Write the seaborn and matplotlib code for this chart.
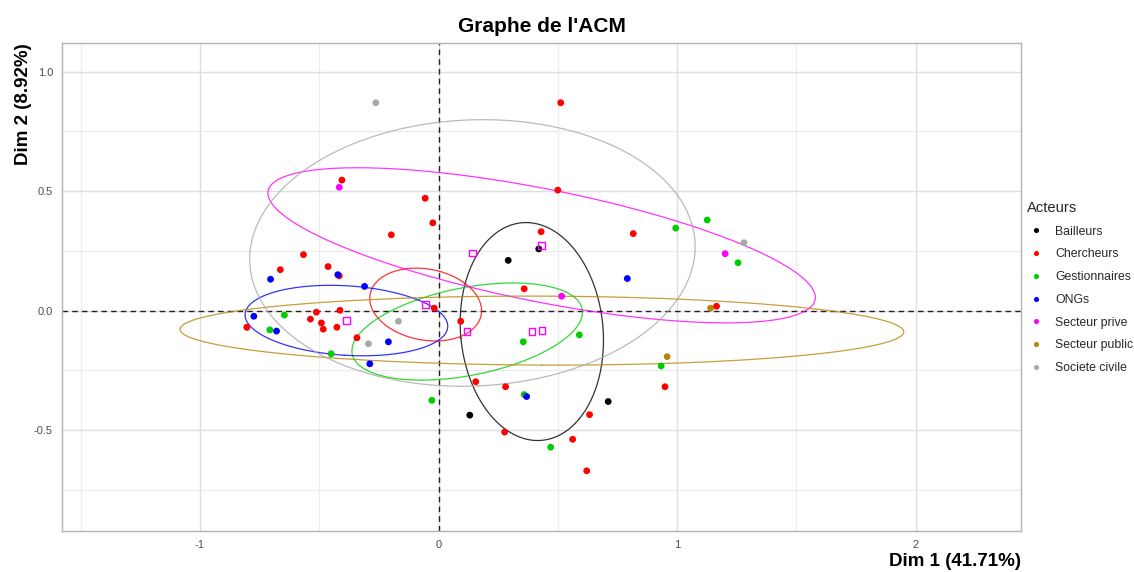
import numpy as np
import pandas as pd
import matplotlib
matplotlib.use("Agg")
import matplotlib.pyplot as plt
import seaborn as sns

# ---------------- data ----------------
groups = ["Bailleurs", "Chercheurs", "Gestionnaires", "ONGs",
          "Secteur prive", "Secteur public", "Societe civile"]
group_colors = ["#000000", "#FF0000", "#00CD00", "#0000FF",
                "#FF00FF", "#B8860B", "#A9A9A9"]

bailleurs_x = [0.292, 0.420, 0.711, 0.131]
bailleurs_y = [0.210, 0.258, -0.381, -0.438]

chercheurs_x = [-0.405, -0.056, -0.024, -0.198, -0.566, -0.663, -0.463, -0.416,
                0.512, 0.500, 0.816, 0.430, 0.359,
                -0.512, -0.413, -0.537, -0.491, -0.483, -0.426, -0.803,
                -0.018, -0.342, 0.093,
                1.165, 0.949, 0.156, 0.281, 0.633, 0.277, 0.562, 0.621]
chercheurs_y = [0.546, 0.470, 0.367, 0.317, 0.234, 0.171, 0.184, 0.145,
                0.870, 0.504, 0.322, 0.330, 0.091,
                -0.007, 0.001, -0.036, -0.052, -0.078, -0.070, -0.070,
                0.010, -0.114, -0.045,
                0.018, -0.319, -0.298, -0.319, -0.436, -0.509, -0.539, -0.671]

gestionnaires_x = [1.126, 0.994, 1.255, -0.646, -0.707, -0.450, -0.028,
                   0.355, 0.590, 0.933, 0.359, 0.470]
gestionnaires_y = [0.379, 0.345, 0.200, -0.019, -0.081, -0.181, -0.376,
                   -0.131, -0.102, -0.232, -0.352, -0.572]

ongs_x = [-0.704, -0.422, -0.310, 0.791, -0.774, -0.679, -0.210, -0.288, 0.369]
ongs_y = [0.131, 0.150, 0.101, 0.134, -0.024, -0.086, -0.131, -0.223, -0.360]

prive_x = [-0.416, 1.201, 0.516]
prive_y = [0.516, 0.238, 0.060]

public_x = [1.140, 0.958, -0.803]
public_y = [0.010, -0.193, -0.070]

civile_x = [-0.263, 1.280, -0.168, -0.294]
civile_y = [0.870, 0.284, -0.045, -0.139]

# supplementary categories (open squares), same order as groups
cat_x = [0.391, -0.054, 0.120, -0.386, 0.432, 0.433, 0.142]
cat_y = [-0.088, 0.025, -0.088, -0.042, 0.273, -0.084, 0.241]

x_ticks = [-1, 0, 1, 2]
y_ticks = [-0.5, 0.0, 0.5, 1.0]
title = "Graphe de l'ACM"
xlabel = "Dim 1 (41.71%)"
ylabel = "Dim 2 (8.92%)"

# ---------------- build frame ----------------
per_group = {
    "Bailleurs": (bailleurs_x, bailleurs_y),
    "Chercheurs": (chercheurs_x, chercheurs_y),
    "Gestionnaires": (gestionnaires_x, gestionnaires_y),
    "ONGs": (ongs_x, ongs_y),
    "Secteur prive": (prive_x, prive_y),
    "Secteur public": (public_x, public_y),
    "Societe civile": (civile_x, civile_y),
}
draw_order = ["Secteur public", "Bailleurs", "Chercheurs", "Gestionnaires",
              "ONGs", "Secteur prive", "Societe civile"]
rows = []
for g in draw_order:
    xs, ys = per_group[g]
    for a, b in zip(xs, ys):
        rows.append({"Dim1": a, "Dim2": b, "Acteurs": g})
df = pd.DataFrame(rows)
palette = dict(zip(groups, group_colors))

# ---------------- style ----------------
sns.set_theme(style="white")
plt.rcParams["font.family"] = ["Liberation Sans", "DejaVu Sans"]

W, H = 1134, 572
fig = plt.figure(figsize=(W / 100, H / 100), dpi=100)
L, R, T, B = 62, 1021, 43, 531
ax = fig.add_axes([L / W, 1 - B / H, (R - L) / W, (B - T) / H])

ax.set_xlim(-1.578, 2.441)
ax.set_ylim(-0.923, 1.120)

# grid
ax.set_xticks(x_ticks)
ax.set_yticks(y_ticks)
ax.set_xticks([-1.5, -0.5, 0.5, 1.5], minor=True)
ax.set_yticks([-0.75, -0.25, 0.25, 0.75], minor=True)
ax.grid(True, which="major", color="#DEDEDE", linewidth=1.0, zorder=0)
ax.grid(True, which="minor", color="#EBEBEB", linewidth=0.8, zorder=0)
ax.set_axisbelow(True)
for s in ax.spines.values():
    s.set_color("#B3B3B3")
    s.set_linewidth(1.0)
ax.tick_params(axis="both", which="major", length=3.5, width=0.8,
               color="#B3B3B3", labelsize=8, labelcolor="#4D4D4D", pad=3)
ax.tick_params(axis="both", which="minor", length=0)
ax.set_xticklabels(["-1", "0", "1", "2"])
ax.set_yticklabels(["-0.5", "0.0", "0.5", "1.0"])

# reference lines
ax.axhline(0, color="#222222", linestyle=(0, (4, 3)), linewidth=1.0, zorder=1)
ax.axvline(0, color="#222222", linestyle=(0, (4, 3)), linewidth=1.0, zorder=1)

# confidence ellipses around the category points
def conf_ellipse(xs, ys, cx, cy, level=0.95, npts=300):
    xy = np.vstack([xs, ys])
    n = xy.shape[1]
    cov = np.cov(xy) / n
    r = np.sqrt(-2 * np.log(1 - level))
    vals, vecs = np.linalg.eigh(cov)
    t = np.linspace(0, 2 * np.pi, npts)
    circ = np.vstack([np.cos(t), np.sin(t)])
    pts = vecs @ (np.sqrt(np.maximum(vals, 0))[:, None] * circ) * r
    return cx + pts[0], cy + pts[1]

for g, c, cx, cy in zip(groups, group_colors, cat_x, cat_y):
    xs, ys = per_group[g]
    ex, ey = conf_ellipse(xs, ys, cx, cy)
    ax.plot(ex, ey, color=c, linewidth=0.9, alpha=0.8, zorder=2)

# individuals
sns.scatterplot(data=df, x="Dim1", y="Dim2", hue="Acteurs", hue_order=groups,
                palette=palette, s=24, linewidth=0, ax=ax, zorder=3,
                legend=True)

# supplementary category squares
ax.scatter(cat_x, cat_y, marker="s", s=22, facecolors="none",
           edgecolors="#FF00FF", linewidths=1.0, zorder=4)

# legend
handles, labels = ax.get_legend_handles_labels()
leg = ax.legend(handles, labels, title="Acteurs", loc="center left",
                bbox_to_anchor=(1.0, 0.499), frameon=False,
                fontsize=8.8, title_fontsize=10.6, markerscale=0.75,
                labelspacing=0.88, handletextpad=0.9, handlelength=1.4,
                borderaxespad=0.1)
leg._legend_box.align = "left"

ax.set_xlabel("")
ax.set_ylabel("")

# titles
fig.text((L + R) / 2 / W, 1 - 27 / H, title, ha="center", va="center",
         fontsize=15, fontweight="bold", color="black")
fig.text(R / W, 1 - 562 / H, xlabel, ha="right", va="center",
         fontsize=13.5, fontweight="bold", color="black")
fig.text(24 / W, 1 - T / H, ylabel, ha="center", va="top", rotation=90,
         fontsize=13.5, fontweight="bold", color="black")

fig.savefig("out.png", dpi=100)
